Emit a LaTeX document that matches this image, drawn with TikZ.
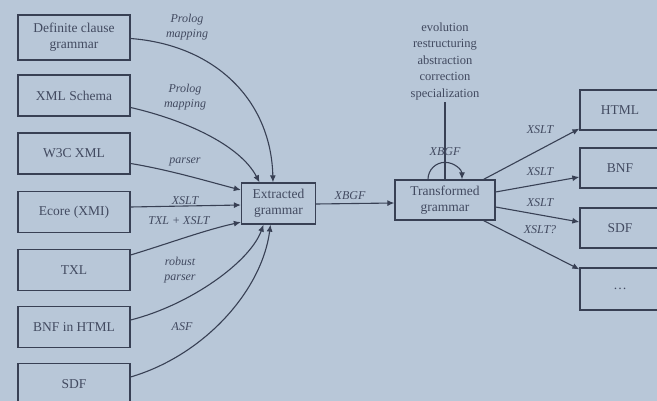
\documentclass[tikz,border=0pt]{standalone}
\usepackage{fontspec}
\setmainfont{Liberation Serif}
\usetikzlibrary{arrows.meta}

\definecolor{paper}{RGB}{184,199,216}
\definecolor{ink}{RGB}{56,64,84}
\definecolor{txt}{RGB}{66,74,96}

\tikzset{
  gbox/.style={draw=ink, line width=1.3pt, text=txt, align=center,
    font=\fontsize{13.5}{16}\selectfont, inner sep=2pt},
  leftbox/.style={gbox, minimum width=112pt, minimum height=41pt},
  rightbox/.style={gbox, minimum width=80pt, minimum height=40pt},
  arr/.style={draw=ink, line width=1.1pt, -{Latex[length=7pt,width=6pt]}},
  lbl/.style={text=txt, align=center, font=\fontsize{12}{15}\selectfont\itshape, inner sep=0pt},
}

\begin{document}
\begin{tikzpicture}[x=1pt,y=-1pt]
  \fill[paper] (0,0) rectangle (657,401);
  \useasboundingbox (0,0) rectangle (657,401);

  % source formats
  \node[leftbox, minimum height=45pt] (dcg) at (74,37.5) {Definite clause\\grammar};
  \node[leftbox] (xsd)   at (74,95.5)  {XML Schema};
  \node[leftbox] (w3c)   at (74,153.5) {W3C XML};
  \node[leftbox] (ecore) at (74,212)   {Ecore (XMI)};
  \node[leftbox] (txl)   at (74,270)   {TXL};
  \node[leftbox] (bnf)   at (74,327)   {BNF in HTML};
  \node[leftbox] (sdf)   at (74,384)   {SDF};

  % central grammars
  \node[gbox, minimum width=74pt, minimum height=41pt] (ext) at (278.5,203.5) {Extracted\\grammar};
  \node[gbox, minimum width=100pt, minimum height=40pt] (trf) at (445,200) {Transformed\\grammar};

  % target formats
  \node[rightbox] (html) at (620,110) {HTML};
  \node[rightbox] (obnf) at (620,168) {BNF};
  \node[rightbox] (osdf) at (620,228) {SDF};
  \node[rightbox, minimum height=42pt] (more) at (620,289) {\dots};

  % transformation kinds
  \node[gbox, draw=none, font=\fontsize{12.5}{16.5}\selectfont] (ops) at (445,61)
    {evolution\\restructuring\\abstraction\\correction\\specialization};

  % extraction arrows
  \draw[arr] ([yshift=-1pt]dcg.east) .. controls (215,45) and (271,100) .. ([xshift=-5.5pt]ext.north);
  \draw[arr] ([yshift=-12pt]xsd.east) .. controls (185,120) and (240,145) .. ([xshift=-19pt]ext.north);
  \draw[arr] ([yshift=-10pt]w3c.east) .. controls (170,170) and (210,182) .. ([yshift=13.5pt]ext.west);
  \draw[arr] ([yshift=5pt]ecore.east) -- ([yshift=-1.5pt]ext.west);
  \draw[arr] ([yshift=15pt]txl.east) .. controls (170,243) and (205,230) .. ([yshift=2.5pt]ext.south west);
  \draw[arr] ([yshift=7pt]bnf.east) .. controls (190,305) and (250,262) .. ([xshift=-15pt]ext.south);
  \draw[arr] ([yshift=7pt]sdf.east) .. controls (205,355) and (262,290) .. ([xshift=-8pt]ext.south);

  \node[lbl] (l1) at (187,27)  {Prolog\\mapping};
  \node[lbl] (l2) at (185,97)  {Prolog\\mapping};
  \node[lbl] (l3) at (185,162) {parser};
  \node[lbl] (l4) at (185,201) {XSLT};
  \node[lbl] (l5) at (179,221) {TXL + XSLT};
  \node[lbl] (l6) at (180,270) {robust\\parser};
  \node[lbl] (l7) at (182,327) {ASF};

  % transformation step
  \draw[arr] ([yshift=-0.5pt]ext.east) -- ([yshift=-3pt]trf.west);
  \node[lbl] (l8) at (350,196) {XBGF};

  \draw[draw=ink, line width=1.1pt] (ops.south) -- (trf.north);
  \draw[arr] ([xshift=-17pt]trf.north) arc[start angle=180, end angle=0, radius=17pt];
  \node[lbl] (l9) at (445,152) {XBGF};

  % generation arrows
  \draw[arr] ([xshift=-12pt]trf.north east) -- ([yshift=2pt]html.south west);
  \draw[arr] ([yshift=8pt]trf.east) -- ([yshift=-9pt]obnf.west);
  \draw[arr] ([yshift=-7pt]trf.east) -- ([yshift=6pt]osdf.west);
  \draw[arr] ([xshift=-12pt]trf.south east) -- ([yshift=-2pt]more.north west);

  \node[lbl] (l10) at (540,130) {XSLT};
  \node[lbl] (l11) at (540,172) {XSLT};
  \node[lbl] (l12) at (540,203) {XSLT};
  \node[lbl] (l13) at (540,230) {XSLT?};
\end{tikzpicture}
\end{document}
